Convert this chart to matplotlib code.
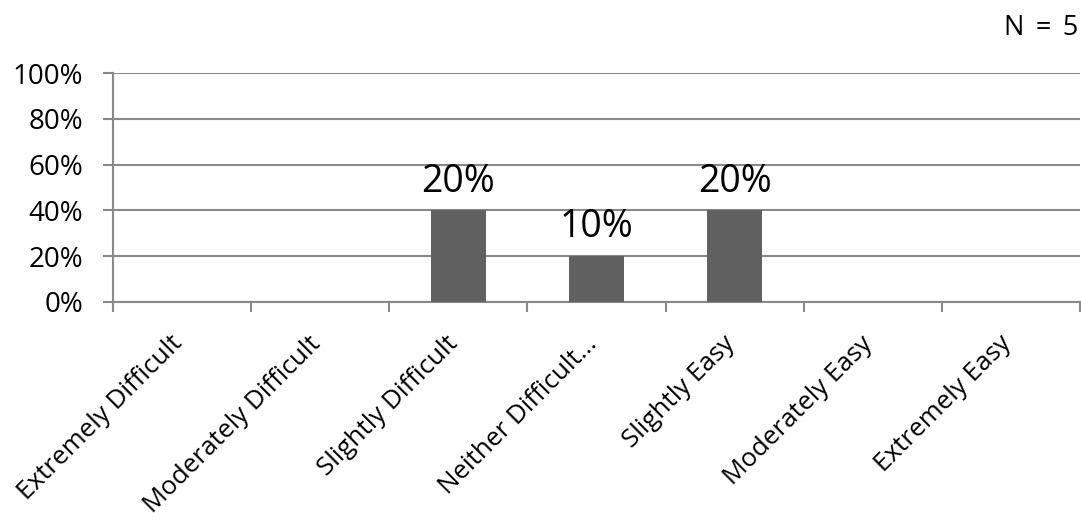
import matplotlib.pyplot as plt
from matplotlib.ticker import FixedLocator, PercentFormatter
from matplotlib.transforms import ScaledTranslation

plt.rcParams['font.family'] = ['Open Sans', 'DejaVu Sans']

categories = ["Extremely Difficult", "Moderately Difficult", "Slightly Difficult",
              "Neither Difficult...", "Slightly Easy", "Moderately Easy", "Extremely Easy"]
# bar heights (percent of axis) and the percentages printed above the bars
bar_pct = [0, 0, 40, 20, 40, 0, 0]
label_pct = [0, 0, 20, 10, 20, 0, 0]
n_responses = 5

grid_col = '#898989'
bar_col = '#616161'

fig = plt.figure(figsize=(10.81, 5.27), dpi=100)
ax = fig.add_axes([113 / 1081, 225 / 527, 967 / 1081, 229 / 527])

x = range(len(categories))
ax.bar(x, bar_pct, width=0.4, color=bar_col, zorder=3)

for i, (h, lab) in enumerate(zip(bar_pct, label_pct)):
    if h > 0:
        ax.annotate(f'{lab}%', (i, h), xytext=(0, 7), textcoords='offset points',
                    ha='center', va='bottom', fontsize=27, color='black', zorder=4)

ax.set_xlim(-0.5, len(categories) - 0.5)
ax.set_ylim(0, 100)
ax.set_yticks(range(0, 101, 20))
ax.yaxis.set_major_formatter(PercentFormatter(decimals=0))
ax.grid(axis='y', color=grid_col, linewidth=1.5, zorder=0)

# category labels sit at the centres, tick marks sit on the boundaries
ax.set_xticks(list(x))
ax.set_xticklabels(categories, rotation=45, ha='right', rotation_mode='anchor',
                   fontsize=18.7)
ax.tick_params(axis='x', which='major', length=0, pad=22)
shift = ScaledTranslation(-9 / 72, 1 / 72, fig.dpi_scale_trans)
for lbl in ax.get_xticklabels():
    lbl.set_transform(lbl.get_transform() + shift)
ax.xaxis.set_minor_locator(FixedLocator([i - 0.5 for i in range(len(categories) + 1)]))
ax.tick_params(axis='x', which='minor', length=7.5, width=1.5, color=grid_col)
ax.tick_params(axis='y', length=7.5, width=1.5, color=grid_col, labelsize=20, pad=14)

for side in ('top', 'right'):
    ax.spines[side].set_visible(False)
for side in ('left', 'bottom'):
    ax.spines[side].set_color(grid_col)
    ax.spines[side].set_linewidth(1.5)

fig.text(1078 / 1081, 1 - 28 / 527, f'N \u2009= \u2009{n_responses}', ha='right',
         va='center', fontsize=19.5)

fig.savefig('out.png', dpi=100)
